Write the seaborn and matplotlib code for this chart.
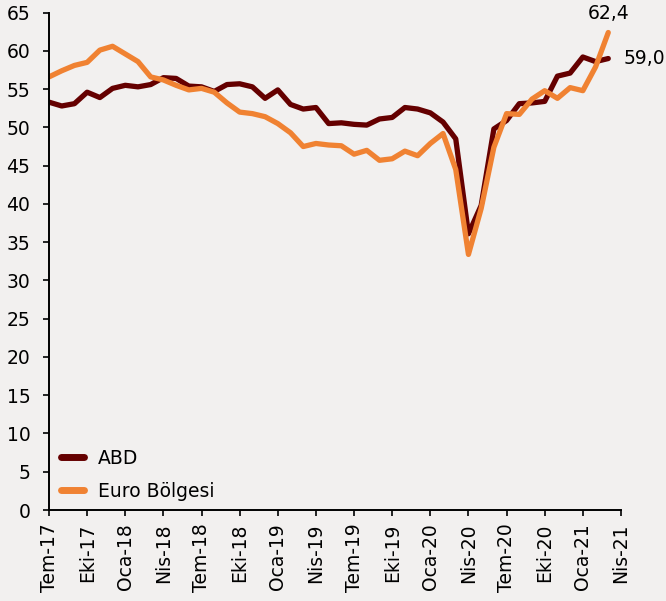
import numpy as np
import pandas as pd
import seaborn as sns
import matplotlib.pyplot as plt

# aylik PMI, Tem-17 .. Mar-21
months = ["Tem-17", "Agu-17", "Eyl-17", "Eki-17", "Kas-17", "Ara-17",
          "Oca-18", "Sub-18", "Mar-18", "Nis-18", "May-18", "Haz-18",
          "Tem-18", "Agu-18", "Eyl-18", "Eki-18", "Kas-18", "Ara-18",
          "Oca-19", "Sub-19", "Mar-19", "Nis-19", "May-19", "Haz-19",
          "Tem-19", "Agu-19", "Eyl-19", "Eki-19", "Kas-19", "Ara-19",
          "Oca-20", "Sub-20", "Mar-20", "Nis-20", "May-20", "Haz-20",
          "Tem-20", "Agu-20", "Eyl-20", "Eki-20", "Kas-20", "Ara-20",
          "Oca-21", "Sub-21", "Mar-21"]
abd = [53.3, 52.8, 53.1, 54.6, 53.9, 55.1,
       55.5, 55.3, 55.6, 56.5, 56.4, 55.4,
       55.3, 54.7, 55.6, 55.7, 55.3, 53.8,
       54.9, 53.0, 52.4, 52.6, 50.5, 50.6,
       50.4, 50.3, 51.1, 51.3, 52.6, 52.4,
       51.9, 50.7, 48.5, 36.1, 39.8, 49.8,
       50.9, 53.1, 53.2, 53.4, 56.7, 57.1,
       59.2, 58.6, 59.0]
euro = [56.6, 57.4, 58.1, 58.5, 60.1, 60.6,
        59.6, 58.6, 56.6, 56.2, 55.5, 54.9,
        55.1, 54.6, 53.2, 52.0, 51.8, 51.4,
        50.5, 49.3, 47.5, 47.9, 47.7, 47.6,
        46.5, 47.0, 45.7, 45.9, 46.9, 46.3,
        47.9, 49.2, 44.5, 33.4, 39.4, 47.4,
        51.8, 51.7, 53.7, 54.8, 53.8, 55.2,
        54.8, 57.9, 62.4]
tick_labels = ["Tem-17", "Eki-17", "Oca-18", "Nis-18", "Tem-18", "Eki-18",
               "Oca-19", "Nis-19", "Tem-19", "Eki-19", "Oca-20", "Nis-20",
               "Tem-20", "Eki-20", "Oca-21", "Nis-21"]

idx = np.arange(len(months))
df = pd.concat([
    pd.DataFrame({"t": idx, "val": abd, "seri": "ABD"}),
    pd.DataFrame({"t": idx, "val": euro, "seri": "Euro Bölgesi"}),
])

bg = "#F2F0EF"
sns.set_style("ticks")
plt.rcParams["font.family"] = ["DejaVu Sans"]
plt.rcParams["text.color"] = "black"

fig, ax = plt.subplots(figsize=(6.66, 6.01), dpi=100)
fig.patch.set_facecolor(bg)
ax.set_facecolor(bg)
fig.subplots_adjust(left=0.0736, right=0.9324, bottom=0.1514, top=0.979)

sns.lineplot(data=df, x="t", y="val", hue="seri",
             palette={"ABD": "#650000", "Euro Bölgesi": "#F08232"},
             linewidth=3.8, ax=ax, solid_capstyle="round")

ax.set_xlim(0, 45)
ax.set_ylim(0, 65)
ax.set_yticks(range(0, 66, 5))
ax.set_xticks(range(0, 46, 3))
ax.set_xticklabels(tick_labels, rotation=90)
ax.tick_params(axis="both", labelsize=13.5, length=4.5, width=1.2, colors="black")
ax.tick_params(axis="y", pad=9)
ax.tick_params(axis="x", pad=5)
ax.set_xlabel("")
ax.set_ylabel("")
for s in ["top", "right"]:
    ax.spines[s].set_visible(False)
for s in ["left", "bottom"]:
    ax.spines[s].set_linewidth(1.4)
    ax.spines[s].set_color("black")

# son deger etiketleri
ax.annotate("62,4", (idx[-1], euro[-1]), xytext=(0, 7), textcoords="offset points",
            ha="center", va="bottom", fontsize=13.5, color="black",
            annotation_clip=False)
ax.annotate("59,0", (idx[-1], abd[-1]), xytext=(11, 0), textcoords="offset points",
            ha="left", va="center", fontsize=13.5, color="black",
            annotation_clip=False)

leg = ax.legend(loc="lower left", bbox_to_anchor=(0.021, 0.018), frameon=False,
                borderaxespad=0, borderpad=0, labelcolor="black",
                fontsize=13.5, handlelength=1.2, handletextpad=0.75, labelspacing=0.75)
for h in leg.get_lines():
    h.set_linewidth(5)
    h.set_solid_capstyle("round")

fig.savefig("out.png", dpi=100, facecolor=bg)
